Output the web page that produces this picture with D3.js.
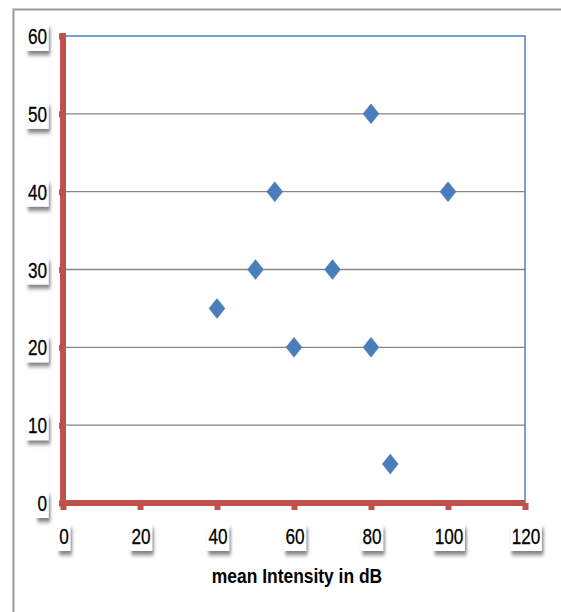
<!DOCTYPE html>
<html><head><meta charset="utf-8">
<script src="https://cdn.jsdelivr.net/npm/d3@7"></script>
<style>html,body{margin:0;padding:0;background:#fff;}svg{display:block;}</style>
</head><body>
<svg id="c" width="561" height="612"></svg>
<script>
const xValues = [40, 50, 55, 60, 70, 80, 80, 85, 100];
const yValues = [25, 30, 40, 20, 30, 50, 20, 5, 40];
const xTicks = [0, 20, 40, 60, 80, 100, 120];
const yTicks = [0, 10, 20, 30, 40, 50, 60];
const xTitle = "mean Intensity in dB";

const svg = d3.select("#c");
const defs = svg.append("defs");
const f = defs.append("filter").attr("id","sh").attr("x","-30%").attr("y","-30%").attr("width","180%").attr("height","180%");
f.append("feDropShadow").attr("dx",2).attr("dy",4).attr("stdDeviation",2.2).attr("flood-color","#000").attr("flood-opacity",0.5);

// outer frame
svg.append("path").attr("d","M13.5,612 V9.5 H561").attr("fill","none").attr("stroke","#9a9a9a").attr("stroke-width",2);

const x = d3.scaleLinear().domain([0,120]).range([63,525]);
const y = d3.scaleLinear().domain([0,60]).range([503,36]);

// gridlines
svg.append("g").selectAll("line").data(yTicks.filter(d=>d>0 && d<60)).join("line")
  .attr("x1",x(0)).attr("x2",x(120)).attr("y1",d=>y(d)).attr("y2",d=>y(d))
  .attr("stroke","#868686").attr("stroke-width",1.3);
// plot top and right border (blue)
svg.append("path").attr("d",`M${x(0)},${y(60)} H${x(120)} V${y(0)}`).attr("fill","none").attr("stroke","#4f81bd").attr("stroke-width",1.5);

// axes (red thick)
const red = "#c0504d";
const ya = svg.append("g").attr("transform",`translate(${x(0)},0)`)
  .call(d3.axisLeft(y).tickValues(yTicks).tickSize(5).tickFormat(""));
ya.select(".domain").attr("stroke",red).attr("stroke-width",6).attr("d",`M0,${y(60)-3}V${y(0)}`);
ya.selectAll(".tick line").attr("stroke",red).attr("stroke-width",6).attr("x2",-4);
const xa = svg.append("g").attr("transform",`translate(0,${y(0)})`)
  .call(d3.axisBottom(x).tickValues(xTicks).tickSize(5).tickFormat(""));
xa.select(".domain").attr("stroke",red).attr("stroke-width",6).attr("d",`M${x(0)-3},0H${x(120)}`);
xa.selectAll(".tick line").attr("stroke",red).attr("stroke-width",6).attr("y2",7);

// tick labels with boxes
const font = "'Liberation Sans', Arial, sans-serif";
const SX = 0.78;
function label(g, txt, anchor){
  const t = g.append("text").text(txt).attr("x",0).attr("y",8).attr("text-anchor",anchor)
    .attr("font-family",font).attr("font-size",22).attr("fill","#000")
    .attr("stroke","#000").attr("stroke-width",0.3);
  const bb = t.node().getBBox();
  g.insert("rect","text").attr("x",bb.x-2).attr("y",-12).attr("width",bb.width+4).attr("height",27)
    .attr("fill","#fff").attr("filter","url(#sh)");
}
const yl = svg.append("g");
yTicks.forEach(d=>{ const g=yl.append("g").attr("transform",`translate(47,${y(d)}) scale(${SX},1)`); label(g, d, "end"); });
const xl = svg.append("g");
xTicks.forEach(d=>{ const g=xl.append("g").attr("transform",`translate(${x(d)+1},${y(0)+33}) scale(${SX},1)`); label(g, d, "middle"); });

// title
svg.append("text").text(xTitle).attr("transform",`translate(297,583) scale(0.83,1)`).attr("text-anchor","middle")
  .attr("font-family",font).attr("font-weight","bold").attr("font-size",21).attr("fill","#000");

// points
const diamond = "M0,-10 L8,0 L0,10 L-8,0 Z";
svg.append("g").selectAll("path").data(xValues.map((v,i)=>[v,yValues[i]])).join("path")
  .attr("d",diamond).attr("transform",d=>`translate(${x(d[0])},${y(d[1])})`)
  .attr("fill","#4a7ebb").attr("stroke","#4a7ebb").attr("stroke-width",0.5);
</script>
</body></html>
